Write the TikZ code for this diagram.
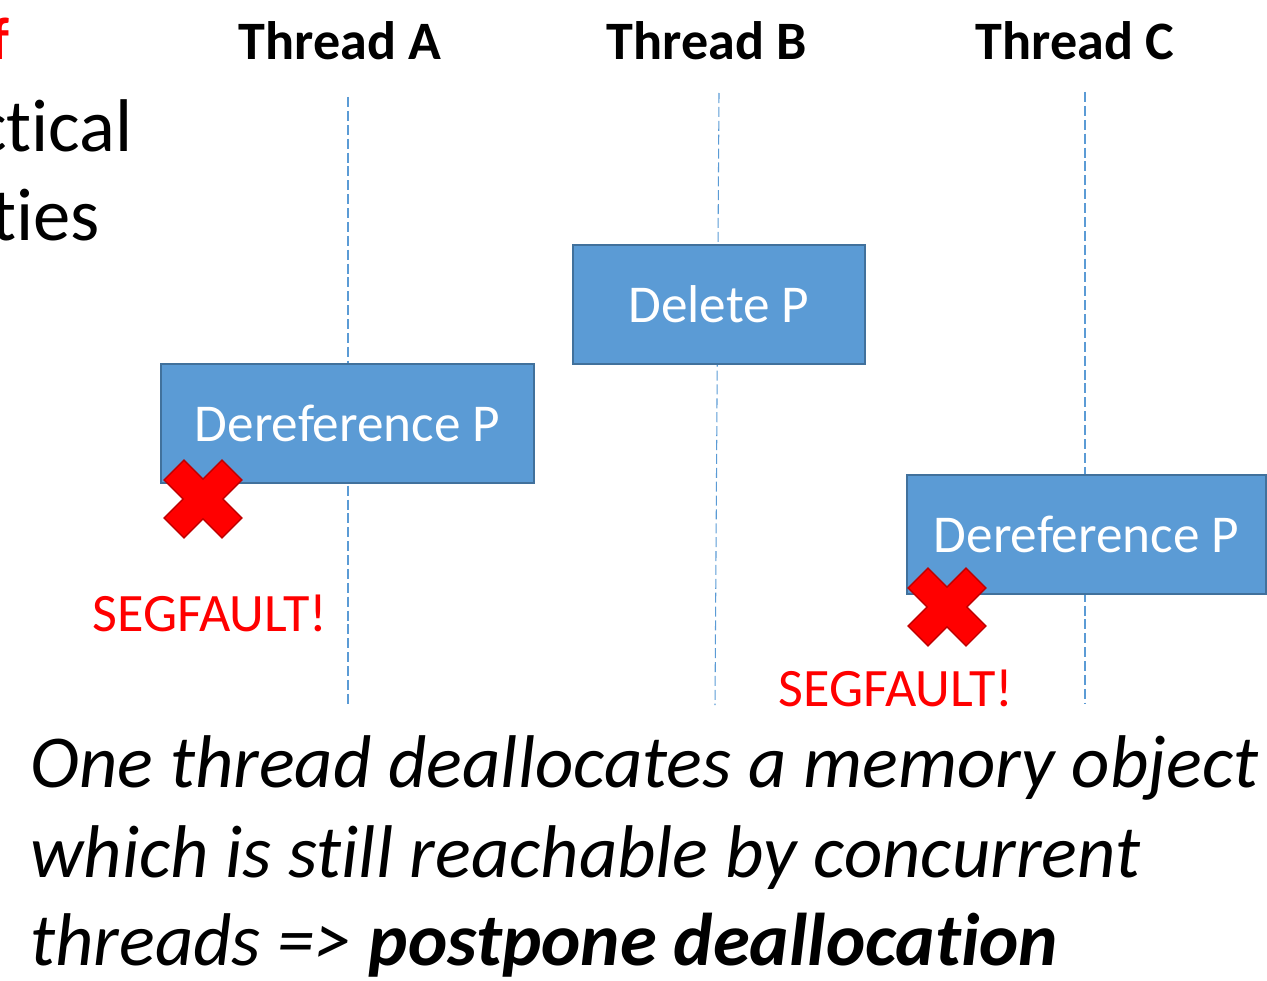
\documentclass[tikz,border=0pt]{standalone}
\usepackage{fontspec}
\setmainfont{Carlito}[Ligatures=NoCommon]
\definecolor{boxblue}{HTML}{5B9BD5}
\definecolor{boxedge}{HTML}{41719C}
\definecolor{crossedge}{HTML}{C00000}
% X mark, built as a plus and turned by the caller
\newcommand\crosspath{(14,41) -- (14,14) -- (41,14) -- (41,-14) -- (14,-14) -- (14,-41)
  -- (-14,-41) -- (-14,-14) -- (-41,-14) -- (-41,14) -- (-14,14) -- (-14,41) -- cycle}
\tikzset{
  opbox/.style={draw=boxedge,line width=1.1pt,fill=boxblue,text=white,
    minimum height=2.38cm,inner sep=0pt,font=\fontsize{30.3}{36}\selectfont},
  lifeline/.style={boxblue,line width=0.6pt,dash pattern=on 5.7pt off 2.2pt},
  threadlbl/.style={anchor=base,inner sep=0pt,font=\fontsize{30.8}{36}\selectfont\bfseries},
  fault/.style={anchor=base,inner sep=0pt,text=red,font=\fontsize{30.8}{36}\selectfont},
  crossx/.style={fill=red,draw=crossedge,line width=0.8pt},
  bigtext/.style={inner sep=0pt,font=\fontsize{42.5}{50}\selectfont}
}
\begin{document}
\begin{tikzpicture}[x=0.02cm,y=-0.02cm]
    \useasboundingbox (0,0) rectangle (1267,980);
    \clip (0,0) rectangle (1267,980);

    % left column, cut by the frame
    \node[bigtext,anchor=base east,text=red,font=\fontsize{34}{40}\selectfont\bfseries] (cutf) at (10,60) {f};
    \node[bigtext,anchor=base east] (cut1) at (133,152) {ctical};
    \node[bigtext,anchor=base east] (cut2) at (100,240) {ties};

    % threads and their lifelines
    \foreach \k/\x/\bx/\t/\b/\lx in {A/348/348/97/705/340,B/719/715/93/705/707,C/1085/1085/92/703/1075} {
        \node[threadlbl] (th\k) at (\lx,60) {Thread \k};
        \coordinate (top\k) at (\x,\t);
        \coordinate (bot\k) at (\bx,\b);
        \draw[lifeline] (top\k) -- (bot\k);
    }

    \node[opbox,minimum width=7.46cm] (derefA) at (347.5,423.5) {Dereference P};
    \node[opbox,minimum width=5.84cm] (delB) at (719,304.5) {Delete P};
    \node[opbox,minimum width=7.18cm] (derefC) at (1086.5,534.5) {Dereference P};

    \foreach \x/\y in {203/499,947/607}
      \draw[crossx,shift={(\x,\y)},rotate=45] \crosspath;

    \node[fault] (segA) at (210,631) {SEGFAULT!};
    \node[fault] (segC) at (896,706) {SEGFAULT!};

    \node[bigtext,anchor=base west] (line1) at (30,787) {\itshape One thread deallocates a memory object};
    \node[bigtext,anchor=base west] (line2) at (30,877) {\itshape which is still reachable by concurrent};
    \node[bigtext,anchor=base west] (line3) at (30,965) {\itshape threads => \textbf{postpone deallocation}};
\end{tikzpicture}
\end{document}
